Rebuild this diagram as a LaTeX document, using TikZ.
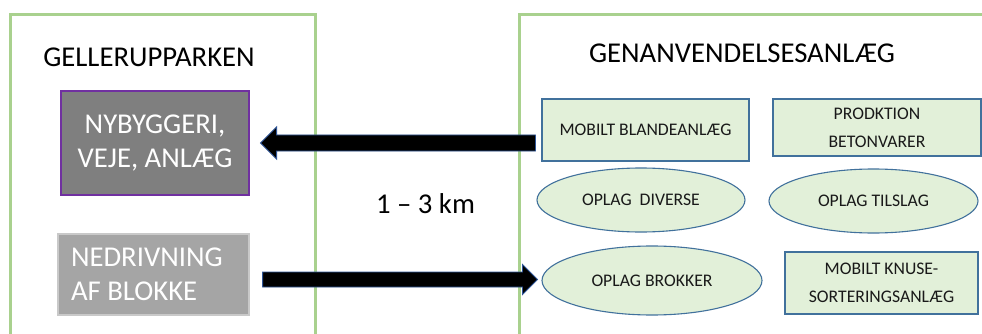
\documentclass[tikz,border=0pt]{standalone}
\usepackage{fontspec}
\setmainfont{Carlito}
\usetikzlibrary{shapes.geometric,calc}
\definecolor{framegreen}{HTML}{A9D18E}
\definecolor{boxfill}{HTML}{E2F0D9}
\definecolor{boxline}{HTML}{41719C}
\definecolor{darkbox}{HTML}{7F7F7F}
\definecolor{darkline}{HTML}{7030A0}
\definecolor{greybox}{HTML}{A5A5A5}
\definecolor{greyline}{HTML}{C9C9C9}
\definecolor{arrowline}{HTML}{2F5597}
\begin{document}
\begin{tikzpicture}[x=1pt,y=-1pt,
  bigtext/.style={font=\fontsize{28.7}{34.4}\selectfont},
  smalltext/.style={font=\fontsize{17.7}{28}\selectfont, text=black!90},
  plantbox/.style={rectangle, draw=boxline, line width=1.1pt, fill=boxfill,
    inner sep=0pt, align=center, smalltext},
  plantpile/.style={ellipse, draw=boxline, line width=1.1pt, fill=boxfill,
    inner sep=0pt, align=center, smalltext},
  sitebox/.style={rectangle, line width=1.1pt, inner sep=0pt, bigtext, text=white},
  areaframe/.style={draw=framegreen, line width=3pt},
  bigarrow/.style={fill=black, draw=arrowline, line width=0.9pt, line join=miter}]

\useasboundingbox (0,0) rectangle (982,334);
\clip (0,0) rectangle (982,334);
\fill[white] (0,0) rectangle (982,334);

% the two areas
\draw[areaframe] (10,15) rectangle (315,345);
\draw[areaframe] (519,15) rectangle (995,345);

% Gellerupparken
\node[bigtext, anchor=base] (site) at (149,67) {GELLERUPPARKEN};
\node[sitebox, fill=darkbox, draw=darkline, minimum width=188pt, minimum height=104pt,
  align=center] (ny) at (155,143) {NYBYGGERI,\\VEJE, ANLÆG};
\node[sitebox, fill=greybox, draw=greyline, minimum width=191pt, minimum height=81pt,
  inner xsep=13pt, text width=165pt, align=flush left] (ned) at (153.5,274.5) {NEDRIVNING\\AF BLOKKE};

% distance
\node[bigtext, anchor=base] (dist) at (425.5,213) {1 – 3 km};

% recycling plant
\node[bigtext, anchor=base] (plant) at (742,63) {GENANVENDELSESANLÆG};
\node[plantbox, minimum width=207pt, minimum height=62pt] (blande) at (645.5,130) {MOBILT BLANDEANLÆG};
\node[plantbox, minimum width=208pt, minimum height=57pt] (prod) at (877,127.5) {PRODKTION\\BETONVARER};
\node[plantpile, minimum width=208pt, minimum height=64pt] (diverse) at (641,200) {OPLAG\ \ DIVERSE};
\node[plantpile, minimum width=209pt, minimum height=64pt] (tilslag) at (873.5,201) {OPLAG TILSLAG};
\node[plantpile, minimum width=220pt, minimum height=69pt] (brokker) at (652,280.5) {OPLAG BROKKER};
\node[plantbox, minimum width=193pt, minimum height=62pt] (knuse) at (881.5,283) {MOBILT KNUSE-\\SORTERINGSANLÆG};

% material flows
\coordinate (a1s) at ($(blande.west |- ny.east)+(-6,0)$);
\coordinate (a1e) at ($(ny.east)+(11,0)$);
\draw[bigarrow] ($(a1s)+(0,-8)$) -- ($(a1e)+(16,-8)$) -- ($(a1e)+(16,-16)$) -- (a1e)
  -- ($(a1e)+(16,16)$) -- ($(a1e)+(16,8)$) -- ($(a1s)+(0,8)$) -- cycle;

\coordinate (a2s) at ($(ned.east |- brokker.west)+(13,-1)$);
\coordinate (a2e) at ($(brokker.west)+(-4,-1)$);
\draw[bigarrow] ($(a2s)+(0,-7.5)$) -- ($(a2e)+(-15,-7.5)$) -- ($(a2e)+(-15,-15)$) -- (a2e)
  -- ($(a2e)+(-15,15)$) -- ($(a2e)+(-15,7.5)$) -- ($(a2s)+(0,7.5)$) -- cycle;
\end{tikzpicture}
\end{document}
